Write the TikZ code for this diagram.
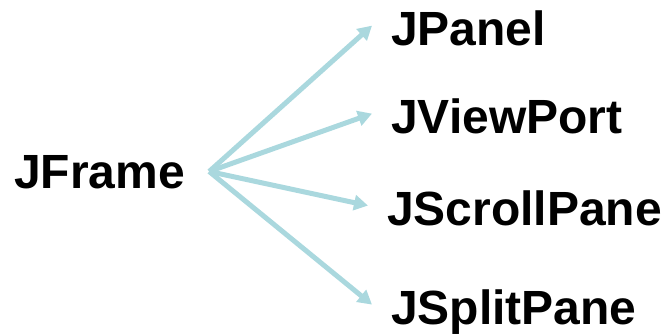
\documentclass[tikz,border=0pt]{standalone}
\usepackage{fontspec}
\setmainfont{Liberation Sans}
\usetikzlibrary{positioning,arrows.meta}

\definecolor{linkblue}{RGB}{170,216,222}

\begin{document}
\begin{tikzpicture}
    [
      x=1pt, y=1pt,
      cls/.style={anchor=base west, inner sep=0pt, text depth=0pt,
        font=\fontsize{48}{56}\selectfont\bfseries},
      link/.style={linkblue, line width=5pt,
        -{Triangle[length=14pt,width=15pt]}}
    ]
    \useasboundingbox (0,0) rectangle (666,-335);
    \node (frame) [cls] at (14,-188) {JFrame};
    \node (panel) [cls] at (391,-45) {JPanel};
    \node (viewport) [cls] at (391,-133) {JViewPort};
    \node (scroll) [cls] at (387,-225) {JScrollPane};
    \node (split) [cls] at (391,-324) {JSplitPane};
    \coordinate [right=24pt of frame] (hub);
    \foreach \j in {panel,viewport,scroll,split}
      \draw [link] (hub) -- ([xshift=-19pt,yshift=2pt]\j.west);
\end{tikzpicture}
\end{document}
